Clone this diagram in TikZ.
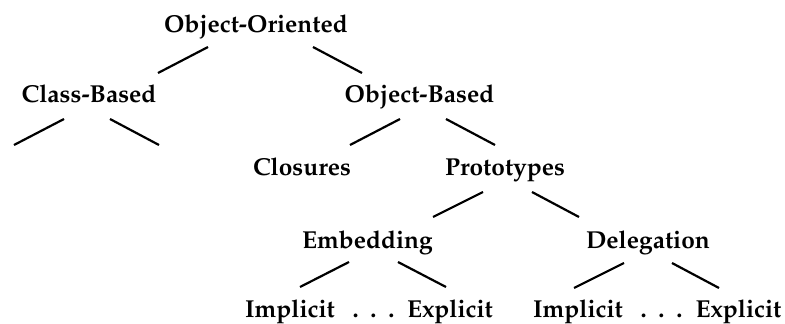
\documentclass[tikz,border=0pt]{standalone}
\usepackage[T1]{fontenc}
\usepackage{mathpazo}
\usetikzlibrary{calc}
\newcommand{\mydots}{.\hspace{0.48em}.\hspace{0.48em}.}
\begin{document}
\begin{tikzpicture}[x=1pt,y=-1pt,
  lbl/.style={anchor=base,inner sep=0pt,font=\fontsize{24.5}{28}\selectfont\bfseries},
  br/.style={line width=2.2pt}]
\useasboundingbox (0,0) rectangle (785,324);
\node[lbl] (OO) at (256,32) {Object-Oriented};
\node[lbl] (CB) at (89,102) {Class-Based};
\node[lbl] (OB) at (419.5,102) {Object-Based};
\node[lbl] (CL) at (302,175) {Closures};
\node[lbl] (PR) at (505,175) {Prototypes};
\node[lbl] (EM) at (367.5,248) {Embedding};
\node[lbl] (DE) at (648,248) {Delegation};
\node[lbl] (I1) at (290,317) {Implicit};
\node[lbl] (D1) at (373.5,317) {\mydots};
\node[lbl] (E1) at (450,317) {Explicit};
\node[lbl] (I2) at (578,317) {Implicit};
\node[lbl] (D2) at (661.5,317) {\mydots};
\node[lbl] (E2) at (738.5,317) {Explicit};
\coordinate (CBl) at ($(CB.base)+(-75,43)$);
\coordinate (CBr) at ($(CB.base)+(70,43)$);
\draw[br] ($(OO.base)+(-48,15)$) -- ($(CB.base)+(69,-29)$);
\draw[br] ($(OO.base)+(57,15)$) -- ($(OB.base)+(-57.5,-29)$);
\draw[br] ($(CB.base)+(-25,17)$) -- (CBl);
\draw[br] ($(CB.base)+(21,17)$) -- (CBr);
\draw[br] ($(OB.base)+(-19.5,17)$) -- ($(CL.base)+(48,-30)$);
\draw[br] ($(OB.base)+(26.5,17)$) -- ($(PR.base)+(-10,-30)$);
\draw[br] ($(PR.base)+(-22,17)$) -- ($(EM.base)+(65.5,-31)$);
\draw[br] ($(PR.base)+(27,17)$) -- ($(DE.base)+(-69,-31)$);
\draw[br] ($(EM.base)+(-18.5,14)$) -- ($(I1.base)+(10,-30)$);
\draw[br] ($(EM.base)+(30.5,14)$) -- ($(E1.base)+(-4,-30)$);
\draw[br] ($(DE.base)+(-24,15)$) -- ($(I2.base)+(-4,-29)$);
\draw[br] ($(DE.base)+(24,15)$) -- ($(E2.base)+(-19.5,-29)$);
\end{tikzpicture}
\end{document}
